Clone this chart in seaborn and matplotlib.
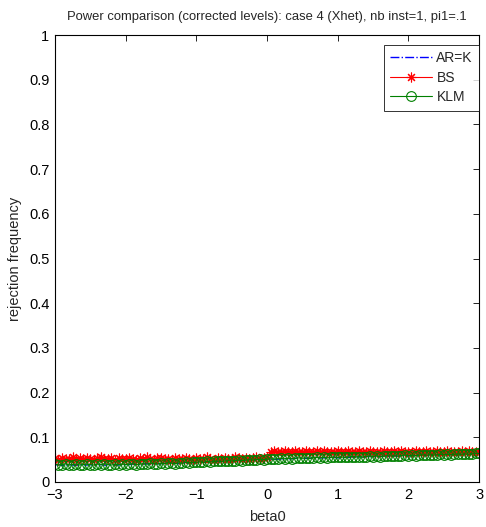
import numpy as np
import matplotlib
matplotlib.use("Agg")
import matplotlib.pyplot as plt
import seaborn as sns

# beta0 grid
beta0 = np.round(np.linspace(-3.0, 3.0, 121), 2)

# rejection frequencies per test
ar_k = [
    0.038, 0.039, 0.037, 0.038, 0.039, 0.038, 0.037, 0.039, 0.038, 0.038,
    0.039, 0.037, 0.038, 0.039, 0.038, 0.037, 0.039, 0.038, 0.038, 0.039,
    0.038, 0.039, 0.040, 0.039, 0.039, 0.040, 0.041, 0.040, 0.040, 0.041,
    0.041, 0.042, 0.041, 0.042, 0.042, 0.041, 0.043, 0.042, 0.043, 0.043,
    0.043, 0.044, 0.044, 0.045, 0.044, 0.045, 0.046, 0.046, 0.046, 0.047,
    0.047, 0.047, 0.048, 0.048, 0.048, 0.049, 0.049, 0.049, 0.050, 0.050,
    0.050, 0.051, 0.051, 0.051, 0.052, 0.052, 0.052, 0.052, 0.053, 0.053,
    0.053, 0.053, 0.053, 0.054, 0.054, 0.054, 0.054, 0.054, 0.055, 0.055,
    0.054, 0.055, 0.055, 0.055, 0.056, 0.056, 0.056, 0.055, 0.057, 0.057,
    0.056, 0.057, 0.057, 0.058, 0.057, 0.058, 0.058, 0.058, 0.058, 0.059,
    0.058, 0.059, 0.059, 0.059, 0.060, 0.059, 0.060, 0.060, 0.060, 0.061,
    0.061, 0.061, 0.061, 0.061, 0.062, 0.062, 0.062, 0.062, 0.063, 0.063, 0.063,
]

bs = [
    0.053, 0.050, 0.054, 0.051, 0.052, 0.055, 0.050, 0.053, 0.051, 0.054,
    0.052, 0.050, 0.053, 0.055, 0.051, 0.052, 0.054, 0.050, 0.053, 0.052,
    0.051, 0.054, 0.052, 0.050, 0.053, 0.051, 0.055, 0.052, 0.050, 0.053,
    0.054, 0.051, 0.052, 0.050, 0.053, 0.052, 0.051, 0.054, 0.052, 0.050,
    0.053, 0.051, 0.052, 0.055, 0.051, 0.050, 0.053, 0.052, 0.054, 0.051,
    0.052, 0.056, 0.053, 0.051, 0.054, 0.052, 0.053, 0.055, 0.052, 0.054,
    0.056,
    0.068, 0.069, 0.067, 0.068, 0.070, 0.067, 0.068, 0.069, 0.068, 0.067,
    0.069, 0.068, 0.067, 0.069, 0.068, 0.070, 0.068, 0.067, 0.068, 0.069,
    0.068, 0.067, 0.069, 0.068, 0.068, 0.070, 0.067, 0.068, 0.069, 0.068,
    0.067, 0.068, 0.069, 0.068, 0.067, 0.069, 0.068, 0.070, 0.068, 0.067,
    0.068, 0.069, 0.068, 0.067, 0.069, 0.068, 0.068, 0.070, 0.067, 0.068,
    0.069, 0.068, 0.067, 0.068, 0.069, 0.068, 0.070, 0.068, 0.067, 0.068,
]

klm = [
    0.040, 0.038, 0.039, 0.041, 0.038, 0.039, 0.040, 0.038, 0.039, 0.040,
    0.039, 0.038, 0.040, 0.039, 0.041, 0.039, 0.038, 0.040, 0.039, 0.040,
    0.039, 0.040, 0.041, 0.039, 0.040, 0.041, 0.040, 0.042, 0.041, 0.040,
    0.042, 0.041, 0.043, 0.042, 0.041, 0.043, 0.042, 0.044, 0.043, 0.044,
    0.044, 0.045, 0.044, 0.046, 0.045, 0.046, 0.047, 0.046, 0.047, 0.048,
    0.047, 0.048, 0.049, 0.048, 0.049, 0.050, 0.049, 0.050, 0.051, 0.050,
    0.051, 0.052, 0.051, 0.052, 0.053, 0.052, 0.053, 0.052, 0.053, 0.054,
    0.053, 0.054, 0.053, 0.054, 0.055, 0.054, 0.055, 0.054, 0.055, 0.056,
    0.055, 0.056, 0.055, 0.056, 0.057, 0.056, 0.057, 0.056, 0.057, 0.058,
    0.057, 0.058, 0.057, 0.058, 0.059, 0.058, 0.059, 0.058, 0.059, 0.060,
    0.059, 0.060, 0.059, 0.060, 0.061, 0.060, 0.061, 0.060, 0.061, 0.062,
    0.061, 0.062, 0.061, 0.062, 0.063, 0.062, 0.063, 0.062, 0.063, 0.064, 0.064,
]

y_ticks = [0.0, 0.1, 0.2, 0.3, 0.4, 0.5, 0.6, 0.7, 0.8, 0.9, 1.0]
y_tick_labels = ["0", "0.1", "0.2", "0.3", "0.4", "0.5", "0.6", "0.7", "0.8", "0.9", "1"]
x_ticks = [-3, -2, -1, 0, 1, 2, 3]

sns.set_theme(style="white")
plt.rcParams["font.family"] = ["Liberation Sans", "DejaVu Sans"]

fig = plt.figure(figsize=(4.86, 5.27), dpi=100)
ax = fig.add_axes([0.113, 0.0854, 0.873, 0.848])

sns.lineplot(x=beta0, y=ar_k, ax=ax, color="blue", linestyle="-.",
             linewidth=1.0, label="AR=K")
sns.lineplot(x=beta0, y=bs, ax=ax, color="red", linewidth=0.8,
             marker=(8, 2, 0), markersize=7, markeredgecolor="red",
             markeredgewidth=0.8, label="BS")
sns.lineplot(x=beta0, y=klm, ax=ax, color="#008000", linewidth=0.8,
             marker="o", markersize=7, markerfacecolor="none",
             markeredgecolor="#008000", markeredgewidth=0.8, label="KLM")

ax.set_xlim(-3, 3)
ax.set_ylim(0, 1)
ax.set_xticks(x_ticks)
ax.set_yticks(y_ticks)
ax.set_yticklabels(y_tick_labels)
ax.tick_params(direction="in", top=True, right=True, length=4, width=0.6,
               colors="black", labelsize=10.5, pad=4)
for s in ax.spines.values():
    s.set_color("black")
    s.set_linewidth(0.8)

ax.set_title("Power comparison (corrected levels): case 4 (Xhet), nb inst=1, pi1=.1",
             fontsize=9.4, pad=11)
ax.set_xlabel("beta0", fontsize=10.5, labelpad=6)
ax.set_ylabel("rejection frequency", fontsize=10.5, labelpad=5)

leg = ax.legend(loc="upper right", bbox_to_anchor=(1.0, 0.978),
                borderaxespad=0, fontsize=10, frameon=True, fancybox=False,
                handlelength=3.0, labelspacing=0.4, borderpad=0.45,
                handletextpad=0.35)
leg.get_frame().set_edgecolor("black")
leg.get_frame().set_linewidth(0.7)

fig.savefig("out.png", dpi=100)
